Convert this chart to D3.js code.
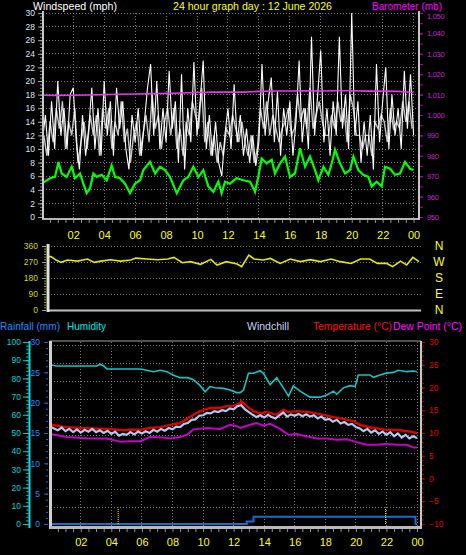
<!DOCTYPE html>
<html><head><meta charset="utf-8">
<script src="https://d3js.org/d3.v7.min.js"></script>
<style>
html,body{margin:0;padding:0;background:#000;}
svg{display:block;}
text{font-family:"Liberation Sans",Arial,sans-serif;}
</style></head>
<body><svg id="chart" width="466" height="555"></svg>
<script>
// ---------------- DATA ----------------
const hourTicks = [2,4,6,8,10,12,14,16,18,20,22,24];
const hourLabels = ["02","04","06","08","10","12","14","16","18","20","22","00"];
const speedTicks = [0,2,4,6,8,10,12,14,16,18,20,22,24,26,28,30];
const baroTicks = [950,960,970,980,990,1000,1010,1020,1030,1040,1050];
const dirTicks = [0,90,180,270,360];
const dirLetters = ["N","E","S","W","N"];
const humTicks = [0,10,20,30,40,50,60,70,80,90,100];
const rainTicks = [0,5,10,15,20,25,30];
const tempTicks = [-10,-5,0,5,10,15,20,25,30];

// wind gust (white) every 0.2 h from 0; wind speed (grey) every 0.2 h from 0.1
const windStep = 0.2;
const windGust = [11,15,9,17,10, 20,12,16,10,18, 19,11,7,15,9, 13,19,10,16,9,
  20,12,17,9,19, 13,17,10,7,15, 11,16,9,14,19, 22.5,12,20,10,16,
  11,21.5,13,17,8, 21,7,16,11,22.8, 12,17,23,10,15, 9,14,8,6,12,
  16,10,19.5,11,15, 9,13,8,12,7.5, 11,22.5,12,17,20.5, 11,18.5,9,16,12,
  17,9,14,23,11, 16,10,26.5,12,18, 24.5,11,16,9,17, 12,26.5,13,18,10,
  30,12,17,8,14, 9,15,7,22.5,11, 17,22,10,18,12, 16,10,21.5,13,21, 12];
const windSpeed = [12,9,14,11,16, 13,17,10,14,12, 16,8,11,14,10, 15,12,15,9,16,
  13,16,10,14,12, 17,11,13,8,12, 14,9,12,15,11, 18,13,15,10,14,
  16,12,16,10,13, 9,14,12,17,15, 13,19,11,14,9, 12,8,11,9,13,
  12,15,13,11,14, 11,9,12,8,10, 16,13,17,12,15, 13,11,13,14,16,
  12,13,18,14,16, 13,19,13,15,17, 14,12,12,15,13, 17,14,16,11,18,
  16,12,12,10,12, 12,9,14,13,15, 14,11,16,13,14, 13,17,14,17,13];

// average wind speed (green)
const avgH = [0,0.17,0.5,0.82,1.04,1.25,1.57,1.9,2.11,2.44,2.65,2.87,3.08,3.3,3.51,3.84,4.16,4.48,4.7,5.02,
  5.35,5.67,5.99,6.32,6.53,6.96,7.29,7.61,7.93,8.25,8.69,9.12,9.44,9.76,10.09,10.41,10.73,11.06,11.38,11.59,
  11.81,12.13,12.56,13.0,13.43,13.75,13.96,14.18,14.5,14.83,15.04,15.37,15.69,16.01,16.33,16.66,16.98,17.3,17.63,17.84,
  18.17,18.49,18.71,18.92,19.24,19.57,19.89,20.11,20.43,20.75,21.08,21.29,21.61,21.94,22.15,22.48,22.8,23.12,23.45,23.77,24.0];
const avgV = [5.0,5.2,5.7,5.9,8.1,6.4,5.9,7.4,5.7,6.4,4.9,3.5,4.2,6.4,5.9,6.2,5.4,7.6,5.9,5.7,
  4.9,3.5,4.9,5.4,6.9,8.1,6.4,7.4,6.9,5.9,3.5,5.4,5.9,7.4,5.9,6.9,4.5,3.7,5.2,3.5,
  5.2,4.9,5.7,5.4,5.2,3.7,5.9,8.6,7.9,8.4,6.4,7.9,8.9,5.9,6.4,10.1,7.4,8.9,6.9,5.4,
  7.4,6.2,7.9,9.9,7.9,6.4,6.9,8.9,6.9,6.2,5.9,4.5,5.2,4.5,7.4,7.1,6.2,6.4,8.1,7.1,6.9];

// barometer (mb)
const baroH = [0,1,2,3,4,5,6,7,8,9,10,11,12,13,14,15,16,17,18,19,20,21,22,23,24];
const baroV = [1009.7,1009.6,1009.7,1009.8,1010.0,1010.2,1010.3,1010.4,1010.6,1010.8,1011.0,1011.2,1011.3,
  1011.2,1011.6,1011.8,1011.8,1011.9,1011.8,1011.9,1011.9,1011.7,1011.7,1011.6,1011.0];

// wind direction (deg)
const dirH = [0,0.13,0.46,0.78,1.2,1.85,2.5,2.93,3.36,4.0,4.65,5.3,5.63,6.38,7.03,7.7,8.1,8.65,9.18,9.83,
  10.5,10.9,11.5,12.2,12.5,12.96,13.3,13.9,14.36,15.0,15.65,16.3,16.95,17.6,18.3,18.9,19.6,20.2,20.8,21.3,
  21.9,22.3,22.8,23.2,23.6,24];
const dirV = [300,300,281,268,281,275,287,268,275,283,275,281,292,287,283,287,296,266,272,257,
  285,253,272,259,244,309,287,281,290,262,287,272,283,272,287,272,262,287,287,262,
  262,244,275,253,296,272];

// humidity (%)
const humH = [0,0.4,1.5,2.5,3.05,3.27,3.5,3.71,4.8,5.9,6.32,6.76,7.2,7.63,8.07,8.5,9.0,9.37,9.81,10.14,
  10.46,10.79,11.34,11.77,12.2,12.43,12.65,12.97,13.3,13.73,13.95,14.39,14.82,15.26,15.59,15.91,16.35,17.0,17.66,18.1,
  18.53,18.75,19.18,19.62,19.95,20.16,20.93,21.14,21.58,22.0,22.45,22.78,23.33,23.76,24];
const humV = [87.5,86.8,86.8,86.8,86.8,87.8,86.8,85.2,85.2,85.2,84.5,83.7,84.5,83.7,81.7,80.4,80.4,79.3,76,72.7,
  75.5,74.9,74.5,73.6,72.2,72.2,73.6,82.8,82.8,84.2,82.8,76.6,80.3,74.8,70.3,75.8,73.0,69.7,69.7,70.9,
  73.0,71.3,74.8,76.0,75.5,81.9,81.9,80.6,81.9,82.9,83.3,84.5,83.7,84.1,83.7];

// temperature (°C)
const tempH = [0,1.1,1.96,3.7,4.8,5.2,5.9,6.5,7.2,7.85,8.5,8.94,9.37,9.81,10.46,11.12,11.55,11.99,12.43,12.5,
  12.86,13.3,13.73,14.17,14.82,15.26,15.59,16.13,17.0,17.88,18.53,19.18,19.84,20.27,21.14,22.0,22.9,23.55,24];
const tempV = [11.8,11.3,11.1,10.9,10.6,10.7,10.7,11.1,11.3,11.8,12.2,13.1,14.0,14.8,15.5,15.5,15.9,15.9,16.6,17.0,
  15.9,14.8,14.3,14.6,14.0,15.1,14.6,14.8,14.6,14.0,13.5,13.1,12.6,11.8,11.1,10.7,10.6,10.3,10.0];

// windchill (°C), one value every 0.25 h
const chillStep = 0.25;
const chillV = [11.4,11.0,10.6,11.2,10.4,10.9,10.2,10.8,10.1,10.7,10.3,10.9,10.2,10.6,10.0,10.5,
  9.8,10.3,9.4,9.8,9.6,10.2,9.7,10.3,9.9,10.4,10.0,10.7,10.3,10.9,10.5,11.1,
  10.8,11.4,11.3,12.0,12.2,12.9,13.0,13.8,13.9,14.4,14.3,14.8,14.6,15.0,14.8,15.4,
  15.2,15.9,16.1,15.2,14.6,14.0,13.5,13.9,13.4,14.0,13.5,13.2,13.9,14.5,13.6,14.1,
  13.8,14.2,13.7,14.1,13.6,13.9,13.2,13.6,12.9,13.1,12.5,12.9,12.1,12.4,11.8,12.0,
  11.3,11.0,10.4,10.9,10.1,10.6,9.8,10.3,9.6,10.2,9.3,9.9,9.0,9.6,8.8,9.3,8.9];

// dew point (°C)
const dewH = [0,1.1,2.6,3.7,4.6,5.2,5.9,6.5,7.4,7.85,8.5,8.94,9.37,10.25,11.12,11.77,12.2,12.43,13.08,13.5,
  13.95,14.39,15.04,15.59,16.13,16.57,17.0,17.44,18.1,18.75,19.4,20.06,20.7,21.36,22.0,22.67,23.33,23.76,24];
const dewV = [9.8,9.1,8.8,8.8,8.1,8.2,8.2,9.1,9.0,8.8,9.1,9.6,10.8,11.1,10.9,11.8,11.5,11.1,11.8,12.2,
  11.6,12.0,10.9,9.6,9.8,9.4,9.1,8.8,8.8,8.5,8.6,8.0,7.4,7.4,7.6,7.4,7.4,6.8,6.8];

// rainfall (mm, daily total) and rain-rate markers
const rainH = [0,12.86,13.3,23.9,24];
const rainV = [0,0.4,1.2,0,0];
const rateH = [4.45,21.95];
const rateV = [2.7,2.7];

// ---------------- DRAW ----------------
const svg = d3.select("#chart");
const GRID = "#7c7c7c";

const xTop = d3.scaleLinear().domain([0,24]).range([42.3,413.6]);
const ySpd = d3.scaleLinear().domain([0,30]).range([217,13]);
const yBaro = d3.scaleLinear().domain([950,1050]).range([217,13]);
const xMid = d3.scaleLinear().domain([0,24]).range([49,419]);
const yDir = d3.scaleLinear().domain([0,360]).range([310,246]);
const xBot = d3.scaleLinear().domain([0,24]).range([50.2,417]);
const yHum = d3.scaleLinear().domain([0,100]).range([524,342]);
const yRain = d3.scaleLinear().domain([0,30]).range([524,342]);
const yTemp = d3.scaleLinear().domain([-10,30]).range([524,342]);
const yGrid = d3.scaleLinear().domain([0,100]).range([525.5,345.7]);

function pathOf(xs, ys, hs, vs, curve){
  return d3.line().x((d,i)=>xs(hs[i])).y(d=>ys(d)).curve(curve||d3.curveLinear)(vs);
}
function styleAxis(g, color, textColor, size){
  g.select(".domain").remove();
  g.selectAll("line").attr("stroke", color);
  g.selectAll("text").attr("fill", textColor).attr("font-size", size);
}

// ---- titles ----
svg.append("text").attr("x",33).attr("y",9.5).attr("fill","#fff").attr("font-size",10.5)
  .attr("textLength",84).attr("lengthAdjust","spacingAndGlyphs").text("Windspeed (mph)");
svg.append("text").attr("x",173).attr("y",9.5).attr("fill","#ffff00").attr("font-size",10.5)
  .attr("textLength",159).attr("lengthAdjust","spacingAndGlyphs").text("24 hour graph day : 12 June 2026");
svg.append("text").attr("x",372).attr("y",9.5).attr("fill","#ff00ff").attr("font-size",10.5)
  .attr("textLength",70).attr("lengthAdjust","spacingAndGlyphs").text("Barometer (mb)");

// ---- top panel ----
const gTop = svg.append("g");
gTop.selectAll(".hg").data(speedTicks.filter(v=>v>0)).join("line")
  .attr("x1",43).attr("x2",419).attr("y1",d=>ySpd(d)).attr("y2",d=>ySpd(d))
  .attr("stroke",GRID).attr("stroke-dasharray","1,2").attr("shape-rendering","crispEdges");
gTop.selectAll(".vg").data(hourTicks).join("line")
  .attr("x1",d=>xTop(d)).attr("x2",d=>xTop(d)).attr("y1",13).attr("y2",218)
  .attr("stroke",GRID).attr("stroke-dasharray","1,2").attr("shape-rendering","crispEdges");

const gustH = windGust.map((d,i)=>i*windStep);
const speedH = windSpeed.map((d,i)=>0.1+i*windStep);
gTop.append("path").attr("d",pathOf(xTop,ySpd,speedH,windSpeed)).attr("fill","none")
  .attr("stroke","#c4c4c4").attr("stroke-width",1.4);
gTop.append("path").attr("d",pathOf(xTop,ySpd,gustH,windGust)).attr("fill","none")
  .attr("stroke","#ffffff").attr("stroke-width",1.1);
gTop.append("path").attr("d",pathOf(xTop,ySpd,avgH,avgV)).attr("fill","none")
  .attr("stroke","#00ff00").attr("stroke-width",2.2);
gTop.append("path").attr("d",pathOf(xTop,yBaro,baroH,baroV)).attr("fill","none")
  .attr("stroke","#ee33ee").attr("stroke-width",1.6);

gTop.append("line").attr("x1",43).attr("x2",43).attr("y1",11).attr("y2",220).attr("stroke","#c8c8c8").attr("stroke-width",2);
gTop.append("line").attr("x1",43).attr("x2",420).attr("y1",219).attr("y2",219).attr("stroke","#b4b4b4").attr("stroke-width",2);
gTop.append("line").attr("x1",419).attr("x2",419).attr("y1",11).attr("y2",220).attr("stroke","#c8c8c8").attr("stroke-width",2);

const aSpdMinor = gTop.append("g").attr("transform","translate(42,0)")
  .call(d3.axisLeft(ySpd).tickValues(d3.range(0,30.01,0.5)).tickSize(2).tickFormat(""));
styleAxis(aSpdMinor,"#8c8c8c","#000",8);
const aSpd = gTop.append("g").attr("transform","translate(42,0)")
  .call(d3.axisLeft(ySpd).tickValues(speedTicks).tickSize(4).tickPadding(3));
styleAxis(aSpd,"#a8a8a8","#dbe6ff",8.5);
const aBaroMinor = gTop.append("g").attr("transform","translate(420,0)")
  .call(d3.axisRight(yBaro).tickValues(d3.range(950,1050.1,5)).tickSize(3).tickFormat(""));
styleAxis(aBaroMinor,"#b000b0","#000",8);
const aBaro = gTop.append("g").attr("transform","translate(420,0)")
  .call(d3.axisRight(yBaro).tickValues(baroTicks).tickSize(3).tickPadding(4));
styleAxis(aBaro,"#b000b0","#c824d0",7.5);
aBaro.selectAll("text").attr("letter-spacing",-0.3).attr("dy",(d)=>d===1050?"0.75em":"0.32em");
const aTopTicks = gTop.append("g").attr("transform","translate(0,220)")
  .call(d3.axisBottom(xTop).tickValues(d3.range(0.5,24.01,0.5)).tickSize(3).tickFormat(""));
styleAxis(aTopTicks,"#909090","#000",8);
const aTopHours = gTop.append("g").attr("transform","translate(0,228)")
  .call(d3.axisBottom(xTop).tickValues(hourTicks).tickFormat((d,i)=>hourLabels[i]).tickSize(0).tickPadding(3));
styleAxis(aTopHours,"#000","#ffff00",11);

// ---- middle panel ----
const gMid = svg.append("g");
gMid.selectAll(".dg").data(dirTicks.filter(v=>v>0)).join("line")
  .attr("x1",48).attr("x2",421).attr("y1",d=>yDir(d)).attr("y2",d=>yDir(d))
  .attr("stroke",GRID).attr("stroke-dasharray","1,2").attr("shape-rendering","crispEdges");
gMid.append("path").attr("d",pathOf(xMid,yDir,dirH,dirV)).attr("fill","none")
  .attr("stroke","#e6e600").attr("stroke-width",1.6);
gMid.append("line").attr("x1",48).attr("x2",421).attr("y1",yDir(0)+0.5).attr("y2",yDir(0)+0.5)
  .attr("stroke","#c0c0c0").attr("stroke-width",2);
gMid.append("line").attr("x1",48).attr("x2",48).attr("y1",244).attr("y2",312)
  .attr("stroke","#e0e0e0").attr("stroke-width",3);
const aDirMinor = gMid.append("g").attr("transform","translate(46,0)")
  .call(d3.axisLeft(yDir).tickValues(d3.range(0,360.1,15)).tickSize(2).tickFormat(""));
styleAxis(aDirMinor,"#a0a000","#000",8);
const aDir = gMid.append("g").attr("transform","translate(46,0)")
  .call(d3.axisLeft(yDir).tickValues(dirTicks).tickSize(4).tickPadding(4));
styleAxis(aDir,"#b0b000","#d4d400",8.5);
gMid.selectAll(".lt").data(dirTicks).join("text")
  .attr("x",439).attr("y",d=>yDir(d)).attr("dy","0.36em").attr("text-anchor","middle")
  .attr("fill","#ffff00").attr("font-size",12).text((d,i)=>dirLetters[i]);

// ---- bottom panel ----
const gBot = svg.append("g");
const hdr = [
  {t:"Rainfall (mm)", x:0, w:60, c:"#1e8cff"},
  {t:"Humidity", x:67, w:39, c:"#00e6e6"},
  {t:"Windchill", x:247, w:42, c:"#c4d4f0"},
  {t:"Temperature (°C)", x:313, w:79, c:"#ff1010"},
  {t:"Dew Point (°C)", x:393, w:69, c:"#ff10ff"}];
gBot.selectAll(".hd").data(hdr).join("text").attr("x",d=>d.x).attr("y",330)
  .attr("fill",d=>d.c).attr("font-size",11).attr("textLength",d=>d.w)
  .attr("lengthAdjust","spacingAndGlyphs").text(d=>d.t);

gBot.selectAll(".bg").data(humTicks.filter(v=>v>0)).join("line")
  .attr("x1",51).attr("x2",420).attr("y1",d=>yGrid(d)).attr("y2",d=>yGrid(d))
  .attr("stroke",GRID).attr("stroke-dasharray","1,2").attr("shape-rendering","crispEdges");
gBot.selectAll(".bv").data(hourTicks).join("line")
  .attr("x1",d=>xBot(d)).attr("x2",d=>xBot(d)).attr("y1",342).attr("y2",526)
  .attr("stroke",GRID).attr("stroke-dasharray","1,2").attr("shape-rendering","crispEdges");

gBot.append("path").attr("d",pathOf(xBot,yHum,humH,humV)).attr("fill","none")
  .attr("stroke","#14c4c4").attr("stroke-width",1.6);
gBot.append("path").attr("d",pathOf(xBot,yTemp,dewH,dewV)).attr("fill","none")
  .attr("stroke","#c800c8").attr("stroke-width",2);
gBot.append("path").attr("d",pathOf(xBot,yTemp,tempH,tempV)).attr("fill","none")
  .attr("stroke","#dd0000").attr("stroke-width",2.4);
const chillH = chillV.map((d,i)=>i*chillStep);
gBot.append("path").attr("d",pathOf(xBot,yTemp,chillH,chillV)).attr("fill","none")
  .attr("stroke","#b4c8ee").attr("stroke-width",2.2);
gBot.append("path").attr("d",pathOf(xBot,yRain,rainH,rainV,d3.curveStepAfter)).attr("fill","none")
  .attr("stroke","#1a6ccc").attr("stroke-width",2);
gBot.selectAll(".rr").data(rateH).join("line")
  .attr("x1",d=>xBot(d)).attr("x2",d=>xBot(d)).attr("y1",yRain(0)).attr("y2",(d,i)=>yRain(rateV[i]))
  .attr("stroke","#ffff00").attr("stroke-dasharray","1,1");

gBot.append("line").attr("x1",50).attr("x2",421).attr("y1",341).attr("y2",341).attr("stroke","#a0a0a0");
gBot.append("line").attr("x1",50.5).attr("x2",50.5).attr("y1",341).attr("y2",529).attr("stroke","#d0d0d0").attr("stroke-width",3);
gBot.append("line").attr("x1",50).attr("x2",422).attr("y1",527.5).attr("y2",527.5).attr("stroke","#b8b8b8").attr("stroke-width",3);
gBot.append("line").attr("x1",421).attr("x2",421).attr("y1",341).attr("y2",529).attr("stroke","#c8c8c8").attr("stroke-width",2);

gBot.append("line").attr("x1",29.5).attr("x2",29.5).attr("y1",341).attr("y2",528).attr("stroke","#00e0e0").attr("stroke-width",2);
const aHumMinor = gBot.append("g").attr("transform","translate(29,0)")
  .call(d3.axisLeft(yHum).tickValues(d3.range(0,100.1,2)).tickSize(3).tickFormat(""));
styleAxis(aHumMinor,"#00b8b8","#000",8);
const aHum = gBot.append("g").attr("transform","translate(29,0)")
  .call(d3.axisLeft(yHum).tickValues(humTicks).tickSize(6).tickPadding(2));
styleAxis(aHum,"#00d0d0","#00d8d8",8.5);
const aRainMinor = gBot.append("g").attr("transform","translate(48,0)")
  .call(d3.axisLeft(yRain).tickValues(d3.range(0,30.1,1)).tickSize(2).tickFormat(""));
styleAxis(aRainMinor,"#1a6ccc","#000",8);
const aRain = gBot.append("g").attr("transform","translate(48,0)")
  .call(d3.axisLeft(yRain).tickValues(rainTicks).tickSize(4).tickPadding(4));
styleAxis(aRain,"#1a6ccc","#2a8cff",8.5);
const aTempMinor = gBot.append("g").attr("transform","translate(422,0)")
  .call(d3.axisRight(yTemp).tickValues(d3.range(-10,30.1,1)).tickSize(2).tickFormat(""));
styleAxis(aTempMinor,"#b00000","#000",8);
const aTemp = gBot.append("g").attr("transform","translate(422,0)")
  .call(d3.axisRight(yTemp).tickValues(tempTicks).tickSize(3).tickPadding(4));
styleAxis(aTemp,"#c00000","#e80000",8.5);
const aBotTicks = gBot.append("g").attr("transform","translate(0,529)")
  .call(d3.axisBottom(xBot).tickValues(d3.range(0.5,24.01,0.5)).tickSize(3).tickFormat(""));
styleAxis(aBotTicks,"#909090","#000",8);
const aBotHours = gBot.append("g").attr("transform","translate(0,535)")
  .call(d3.axisBottom(xBot).tickValues(hourTicks).tickFormat((d,i)=>hourLabels[i]).tickSize(0).tickPadding(3));
styleAxis(aBotHours,"#000","#ffff00",11);
</script>
</body></html>
